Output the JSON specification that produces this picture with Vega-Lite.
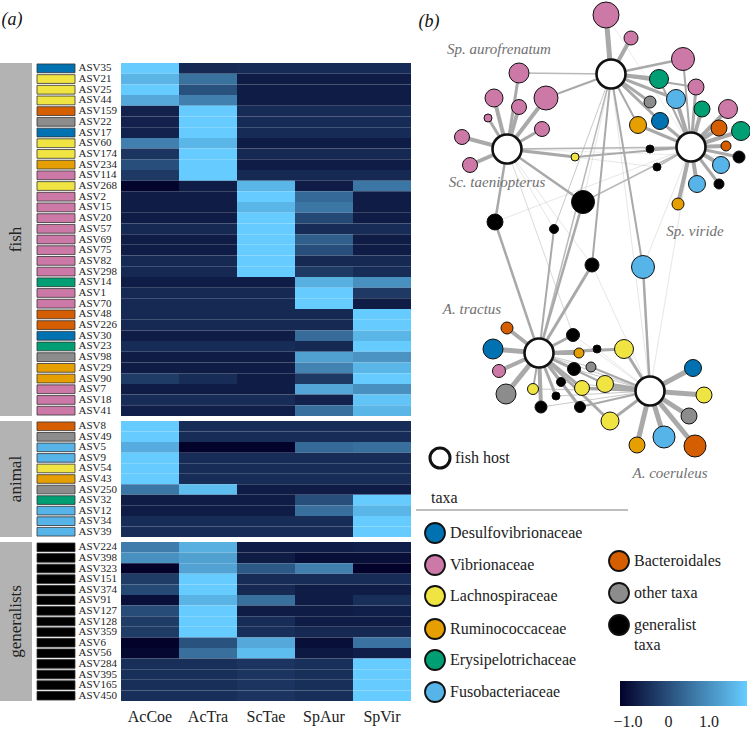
{
 "$schema": "https://vega.github.io/schema/vega-lite/v6.json",
 "padding": 0,
 "background": "white",
 "config": {"view": {"stroke": null}, "font": "Liberation Serif"},
 "datasets": {
  "heat": [
   {"asv":"ASV35","g":"fish","t":"Desulfovibrionaceae","AcCoe":1.94,"AcTra":-0.6,"ScTae":-0.57,"SpAur":-0.57,"SpVir":-0.57},
   {"asv":"ASV21","g":"fish","t":"Lachnospiraceae","AcCoe":1.56,"AcTra":0.53,"ScTae":-0.8,"SpAur":-0.8,"SpVir":-0.8},
   {"asv":"ASV25","g":"fish","t":"Lachnospiraceae","AcCoe":1.94,"AcTra":0.03,"ScTae":-0.8,"SpAur":-0.8,"SpVir":-0.8},
   {"asv":"ASV44","g":"fish","t":"Lachnospiraceae","AcCoe":1.4,"AcTra":0.75,"ScTae":-0.8,"SpAur":-0.8,"SpVir":-0.8},
   {"asv":"ASV159","g":"fish","t":"Bacteroidales","AcCoe":-0.7,"AcTra":1.94,"ScTae":-0.57,"SpAur":-0.57,"SpVir":-0.57},
   {"asv":"ASV22","g":"fish","t":"other taxa","AcCoe":-0.7,"AcTra":1.94,"ScTae":-0.57,"SpAur":-0.57,"SpVir":-0.57},
   {"asv":"ASV17","g":"fish","t":"Desulfovibrionaceae","AcCoe":-0.7,"AcTra":1.94,"ScTae":-0.57,"SpAur":-0.57,"SpVir":-0.57},
   {"asv":"ASV60","g":"fish","t":"Lachnospiraceae","AcCoe":0.75,"AcTra":1.6,"ScTae":-0.8,"SpAur":-0.8,"SpVir":-0.8},
   {"asv":"ASV174","g":"fish","t":"Lachnospiraceae","AcCoe":-0.4,"AcTra":1.94,"ScTae":-0.6,"SpAur":-0.6,"SpVir":-0.6},
   {"asv":"ASV234","g":"fish","t":"Ruminococcaceae","AcCoe":0.0,"AcTra":1.94,"ScTae":-0.8,"SpAur":-0.8,"SpVir":-0.8},
   {"asv":"ASV114","g":"fish","t":"Vibrionaceae","AcCoe":-0.35,"AcTra":1.94,"ScTae":-0.6,"SpAur":-0.6,"SpVir":-0.6},
   {"asv":"ASV268","g":"fish","t":"Lachnospiraceae","AcCoe":-1.15,"AcTra":-0.8,"ScTae":1.6,"SpAur":-0.8,"SpVir":0.6},
   {"asv":"ASV2","g":"fish","t":"Vibrionaceae","AcCoe":-0.8,"AcTra":-0.8,"ScTae":1.94,"SpAur":0.4,"SpVir":-0.8},
   {"asv":"ASV15","g":"fish","t":"Vibrionaceae","AcCoe":-0.8,"AcTra":-0.8,"ScTae":1.6,"SpAur":0.6,"SpVir":-0.8},
   {"asv":"ASV20","g":"fish","t":"Vibrionaceae","AcCoe":-0.8,"AcTra":-0.8,"ScTae":1.94,"SpAur":-0.1,"SpVir":-0.8},
   {"asv":"ASV57","g":"fish","t":"Vibrionaceae","AcCoe":-0.6,"AcTra":-0.6,"ScTae":1.94,"SpAur":-0.55,"SpVir":-0.55},
   {"asv":"ASV69","g":"fish","t":"Vibrionaceae","AcCoe":-0.8,"AcTra":-0.8,"ScTae":1.94,"SpAur":0.25,"SpVir":-0.8},
   {"asv":"ASV75","g":"fish","t":"Vibrionaceae","AcCoe":-0.8,"AcTra":-0.8,"ScTae":1.94,"SpAur":0.0,"SpVir":-0.8},
   {"asv":"ASV82","g":"fish","t":"Vibrionaceae","AcCoe":-0.6,"AcTra":-0.6,"ScTae":1.94,"SpAur":-0.6,"SpVir":-0.6},
   {"asv":"ASV298","g":"fish","t":"Vibrionaceae","AcCoe":-0.6,"AcTra":-0.6,"ScTae":1.94,"SpAur":-0.35,"SpVir":-0.55},
   {"asv":"ASV14","g":"fish","t":"Erysipelotrichaceae","AcCoe":-0.8,"AcTra":-0.8,"ScTae":-0.8,"SpAur":1.5,"SpVir":1.0},
   {"asv":"ASV1","g":"fish","t":"Vibrionaceae","AcCoe":-0.6,"AcTra":-0.6,"ScTae":-0.6,"SpAur":1.94,"SpVir":-0.35},
   {"asv":"ASV70","g":"fish","t":"Vibrionaceae","AcCoe":-0.6,"AcTra":-0.6,"ScTae":-0.6,"SpAur":1.94,"SpVir":-0.8},
   {"asv":"ASV48","g":"fish","t":"Bacteroidales","AcCoe":-0.6,"AcTra":-0.6,"ScTae":-0.6,"SpAur":-0.6,"SpVir":1.94},
   {"asv":"ASV226","g":"fish","t":"Bacteroidales","AcCoe":-0.6,"AcTra":-0.6,"ScTae":-0.6,"SpAur":-0.6,"SpVir":1.94},
   {"asv":"ASV30","g":"fish","t":"Desulfovibrionaceae","AcCoe":-0.8,"AcTra":-0.8,"ScTae":-0.8,"SpAur":0.45,"SpVir":1.6},
   {"asv":"ASV23","g":"fish","t":"Erysipelotrichaceae","AcCoe":-0.55,"AcTra":-0.55,"ScTae":-0.55,"SpAur":-0.6,"SpVir":1.94},
   {"asv":"ASV98","g":"fish","t":"other taxa","AcCoe":-0.8,"AcTra":-0.8,"ScTae":-0.8,"SpAur":1.25,"SpVir":1.05},
   {"asv":"ASV29","g":"fish","t":"Ruminococcaceae","AcCoe":-0.8,"AcTra":-0.8,"ScTae":-0.8,"SpAur":0.8,"SpVir":1.6},
   {"asv":"ASV90","g":"fish","t":"Ruminococcaceae","AcCoe":-0.3,"AcTra":-0.55,"ScTae":-0.8,"SpAur":-0.35,"SpVir":1.94},
   {"asv":"ASV7","g":"fish","t":"Vibrionaceae","AcCoe":-0.8,"AcTra":-0.8,"ScTae":-0.8,"SpAur":1.35,"SpVir":1.0},
   {"asv":"ASV18","g":"fish","t":"Vibrionaceae","AcCoe":-0.55,"AcTra":-0.55,"ScTae":-0.55,"SpAur":-0.7,"SpVir":1.8},
   {"asv":"ASV41","g":"fish","t":"Vibrionaceae","AcCoe":-0.75,"AcTra":-0.75,"ScTae":-0.75,"SpAur":0.5,"SpVir":1.6},
   {"asv":"ASV8","g":"animal","t":"Bacteroidales","AcCoe":1.94,"AcTra":-0.55,"ScTae":-0.55,"SpAur":-0.55,"SpVir":-0.55},
   {"asv":"ASV49","g":"animal","t":"other taxa","AcCoe":1.94,"AcTra":-0.55,"ScTae":-0.55,"SpAur":-0.55,"SpVir":-0.55},
   {"asv":"ASV5","g":"animal","t":"Fusobacteriaceae","AcCoe":1.45,"AcTra":-1.2,"ScTae":-1.2,"SpAur":0.4,"SpVir":0.5},
   {"asv":"ASV9","g":"animal","t":"Fusobacteriaceae","AcCoe":1.94,"AcTra":-0.55,"ScTae":-0.55,"SpAur":-0.55,"SpVir":-0.55},
   {"asv":"ASV54","g":"animal","t":"Lachnospiraceae","AcCoe":1.94,"AcTra":-0.55,"ScTae":-0.55,"SpAur":-0.55,"SpVir":-0.55},
   {"asv":"ASV43","g":"animal","t":"Ruminococcaceae","AcCoe":1.94,"AcTra":-0.55,"ScTae":-0.55,"SpAur":-0.55,"SpVir":-0.55},
   {"asv":"ASV250","g":"animal","t":"other taxa","AcCoe":0.6,"AcTra":1.7,"ScTae":-0.8,"SpAur":-0.8,"SpVir":-0.8},
   {"asv":"ASV32","g":"animal","t":"Erysipelotrichaceae","AcCoe":-0.8,"AcTra":-0.8,"ScTae":-0.8,"SpAur":0.0,"SpVir":1.94},
   {"asv":"ASV12","g":"animal","t":"Fusobacteriaceae","AcCoe":-0.8,"AcTra":-0.8,"ScTae":-0.8,"SpAur":0.5,"SpVir":1.6},
   {"asv":"ASV34","g":"animal","t":"Fusobacteriaceae","AcCoe":-0.55,"AcTra":-0.55,"ScTae":-0.55,"SpAur":-0.55,"SpVir":1.94},
   {"asv":"ASV39","g":"animal","t":"Fusobacteriaceae","AcCoe":-0.55,"AcTra":-0.55,"ScTae":-0.55,"SpAur":-0.55,"SpVir":1.94},
   {"asv":"ASV224","g":"generalists","t":"generalist taxa","AcCoe":0.7,"AcTra":1.5,"ScTae":-0.8,"SpAur":-0.8,"SpVir":-0.75},
   {"asv":"ASV398","g":"generalists","t":"generalist taxa","AcCoe":1.0,"AcTra":1.25,"ScTae":-0.8,"SpAur":-1.0,"SpVir":-1.0},
   {"asv":"ASV323","g":"generalists","t":"generalist taxa","AcCoe":-1.2,"AcTra":1.3,"ScTae":0.15,"SpAur":0.75,"SpVir":-1.2},
   {"asv":"ASV151","g":"generalists","t":"generalist taxa","AcCoe":-0.3,"AcTra":1.94,"ScTae":-0.55,"SpAur":-0.55,"SpVir":-0.55},
   {"asv":"ASV374","g":"generalists","t":"generalist taxa","AcCoe":-0.1,"AcTra":1.94,"ScTae":-0.6,"SpAur":-0.8,"SpVir":-0.8},
   {"asv":"ASV91","g":"generalists","t":"generalist taxa","AcCoe":-1.0,"AcTra":1.55,"ScTae":0.5,"SpAur":-0.8,"SpVir":-0.5},
   {"asv":"ASV127","g":"generalists","t":"generalist taxa","AcCoe":-0.05,"AcTra":1.94,"ScTae":-0.8,"SpAur":-0.8,"SpVir":-0.75},
   {"asv":"ASV128","g":"generalists","t":"generalist taxa","AcCoe":-0.3,"AcTra":1.94,"ScTae":-0.55,"SpAur":-0.8,"SpVir":-0.8},
   {"asv":"ASV359","g":"generalists","t":"generalist taxa","AcCoe":-0.3,"AcTra":1.94,"ScTae":-0.5,"SpAur":-0.6,"SpVir":-0.6},
   {"asv":"ASV6","g":"generalists","t":"generalist taxa","AcCoe":-1.2,"AcTra":0.05,"ScTae":1.4,"SpAur":-1.0,"SpVir":0.55},
   {"asv":"ASV56","g":"generalists","t":"generalist taxa","AcCoe":-1.1,"AcTra":0.5,"ScTae":1.7,"SpAur":-0.85,"SpVir":-0.75},
   {"asv":"ASV284","g":"generalists","t":"generalist taxa","AcCoe":-0.5,"AcTra":-0.5,"ScTae":-0.4,"SpAur":-0.5,"SpVir":1.94},
   {"asv":"ASV395","g":"generalists","t":"generalist taxa","AcCoe":-0.5,"AcTra":-0.5,"ScTae":-0.4,"SpAur":-0.5,"SpVir":1.94},
   {"asv":"ASV165","g":"generalists","t":"generalist taxa","AcCoe":-0.5,"AcTra":-0.5,"ScTae":-0.4,"SpAur":-0.5,"SpVir":1.94},
   {"asv":"ASV450","g":"generalists","t":"generalist taxa","AcCoe":-0.5,"AcTra":-0.5,"ScTae":-0.4,"SpAur":-0.5,"SpVir":1.94}
  ],
  "nodes": [
   {"id":"H1","x":610,"y":72,"abund":29,"t":"host"},
   {"id":"H2","x":506,"y":147,"abund":29,"t":"host"},
   {"id":"H3","x":690,"y":145,"abund":29,"t":"host"},
   {"id":"H4","x":538,"y":351,"abund":29,"t":"host"},
   {"id":"H5","x":649,"y":389,"abund":29,"t":"host"},
   {"id":"n1","x":605,"y":13,"abund":26,"t":"Vibrionaceae"},
   {"id":"n2","x":630,"y":36,"abund":14,"t":"Vibrionaceae"},
   {"id":"n3","x":682,"y":57,"abund":23,"t":"Vibrionaceae"},
   {"id":"n4","x":658,"y":77,"abund":19,"t":"Erysipelotrichaceae"},
   {"id":"n5","x":695,"y":85,"abund":16,"t":"Vibrionaceae"},
   {"id":"n6","x":675,"y":97,"abund":19,"t":"Fusobacteriaceae"},
   {"id":"n7","x":649,"y":100,"abund":12,"t":"other taxa"},
   {"id":"n8","x":701,"y":107,"abund":16,"t":"Erysipelotrichaceae"},
   {"id":"n9","x":727,"y":107,"abund":19,"t":"Vibrionaceae"},
   {"id":"n10","x":659,"y":119,"abund":17,"t":"Desulfovibrionaceae"},
   {"id":"n11","x":637,"y":123,"abund":17,"t":"Ruminococcaceae"},
   {"id":"n12","x":718,"y":126,"abund":16,"t":"Bacteroidales"},
   {"id":"n13","x":740,"y":129,"abund":19,"t":"Erysipelotrichaceae"},
   {"id":"n14","x":725,"y":144,"abund":10,"t":"Bacteroidales"},
   {"id":"n15","x":738,"y":155,"abund":12,"t":"generalist taxa"},
   {"id":"n16","x":649,"y":147,"abund":8,"t":"generalist taxa"},
   {"id":"n17","x":656,"y":165,"abund":8,"t":"generalist taxa"},
   {"id":"n18","x":720,"y":163,"abund":17,"t":"Fusobacteriaceae"},
   {"id":"n19","x":696,"y":182,"abund":17,"t":"Fusobacteriaceae"},
   {"id":"n20","x":718,"y":182,"abund":10,"t":"generalist taxa"},
   {"id":"n21","x":677,"y":202,"abund":12,"t":"Ruminococcaceae"},
   {"id":"n22","x":574,"y":155,"abund":8,"t":"Lachnospiraceae"},
   {"id":"n23","x":582,"y":200,"abund":23,"t":"generalist taxa"},
   {"id":"n24","x":494,"y":220,"abund":16,"t":"generalist taxa"},
   {"id":"n25","x":553,"y":227,"abund":9,"t":"generalist taxa"},
   {"id":"n26","x":591,"y":263,"abund":14,"t":"generalist taxa"},
   {"id":"n27","x":642,"y":265,"abund":23,"t":"Fusobacteriaceae"},
   {"id":"n28","x":518,"y":71,"abund":20,"t":"Vibrionaceae"},
   {"id":"n29","x":493,"y":96,"abund":18,"t":"Vibrionaceae"},
   {"id":"n30","x":545,"y":96,"abund":24,"t":"Vibrionaceae"},
   {"id":"n31","x":518,"y":105,"abund":15,"t":"Vibrionaceae"},
   {"id":"n32","x":487,"y":116,"abund":8,"t":"Vibrionaceae"},
   {"id":"n33","x":541,"y":127,"abund":15,"t":"Vibrionaceae"},
   {"id":"n34","x":461,"y":135,"abund":15,"t":"Vibrionaceae"},
   {"id":"n35","x":469,"y":163,"abund":15,"t":"Vibrionaceae"},
   {"id":"n36","x":506,"y":326,"abund":12,"t":"Bacteroidales"},
   {"id":"n37","x":492,"y":347,"abund":20,"t":"Desulfovibrionaceae"},
   {"id":"n38","x":498,"y":369,"abund":13,"t":"Vibrionaceae"},
   {"id":"n39","x":505,"y":392,"abund":20,"t":"other taxa"},
   {"id":"n40","x":532,"y":387,"abund":11,"t":"Lachnospiraceae"},
   {"id":"n41","x":572,"y":333,"abund":13,"t":"generalist taxa"},
   {"id":"n42","x":578,"y":351,"abund":10,"t":"Ruminococcaceae"},
   {"id":"n43","x":596,"y":347,"abund":8,"t":"generalist taxa"},
   {"id":"n44","x":623,"y":347,"abund":19,"t":"Lachnospiraceae"},
   {"id":"n45","x":573,"y":367,"abund":13,"t":"generalist taxa"},
   {"id":"n46","x":590,"y":365,"abund":10,"t":"other taxa"},
   {"id":"n47","x":560,"y":380,"abund":9,"t":"generalist taxa"},
   {"id":"n48","x":581,"y":386,"abund":15,"t":"Lachnospiraceae"},
   {"id":"n49","x":604,"y":382,"abund":17,"t":"Lachnospiraceae"},
   {"id":"n50","x":555,"y":394,"abund":8,"t":"generalist taxa"},
   {"id":"n51","x":540,"y":405,"abund":12,"t":"generalist taxa"},
   {"id":"n52","x":579,"y":405,"abund":11,"t":"generalist taxa"},
   {"id":"n53","x":609,"y":419,"abund":18,"t":"Lachnospiraceae"},
   {"id":"n54","x":692,"y":366,"abund":17,"t":"Desulfovibrionaceae"},
   {"id":"n55","x":703,"y":393,"abund":16,"t":"Lachnospiraceae"},
   {"id":"n56","x":688,"y":414,"abund":16,"t":"other taxa"},
   {"id":"n57","x":663,"y":435,"abund":22,"t":"Fusobacteriaceae"},
   {"id":"n58","x":636,"y":443,"abund":16,"t":"Ruminococcaceae"},
   {"id":"n59","x":694,"y":444,"abund":22,"t":"Bacteroidales"}
  ],
  "edges": [
   {"s":"H1","t":"n1","w":5},{"s":"H1","t":"n2","w":4},{"s":"H1","t":"n3","w":2.5},{"s":"H1","t":"n4","w":4},
   {"s":"H1","t":"n6","w":3},{"s":"H1","t":"n7","w":3},{"s":"H1","t":"n10","w":3},{"s":"H1","t":"n11","w":2},
   {"s":"H1","t":"n28","w":1.5},{"s":"H1","t":"n30","w":2},{"s":"H1","t":"n26","w":2},{"s":"H1","t":"n27","w":2},
   {"s":"H1","t":"n25","w":1},{"s":"H1","t":"H4","w":1.5},{"s":"H1","t":"n23","w":0.6},{"s":"H1","t":"n5","w":2},
   {"s":"H2","t":"n28","w":3},{"s":"H2","t":"n29","w":4},{"s":"H2","t":"n30","w":4},{"s":"H2","t":"n31","w":4},
   {"s":"H2","t":"n32","w":3},{"s":"H2","t":"n33","w":3},{"s":"H2","t":"n34","w":4},{"s":"H2","t":"n35","w":4},
   {"s":"H2","t":"n22","w":3},{"s":"H2","t":"H3","w":1.5},{"s":"H2","t":"n23","w":2.5},{"s":"H2","t":"n24","w":2.5},
   {"s":"H2","t":"n25","w":0.6},{"s":"H2","t":"n26","w":0.6},{"s":"H2","t":"n16","w":0.6},{"s":"H2","t":"n17","w":0.6},
   {"s":"H2","t":"n41","w":0.8},{"s":"H2","t":"n15","w":0.5},
   {"s":"H3","t":"n3","w":2},{"s":"H3","t":"n4","w":2},{"s":"H3","t":"n5","w":3},{"s":"H3","t":"n6","w":4},
   {"s":"H3","t":"n8","w":4},{"s":"H3","t":"n9","w":4},{"s":"H3","t":"n10","w":3},{"s":"H3","t":"n11","w":3},
   {"s":"H3","t":"n12","w":4},{"s":"H3","t":"n13","w":4},{"s":"H3","t":"n14","w":4},{"s":"H3","t":"n15","w":3},
   {"s":"H3","t":"n16","w":2},{"s":"H3","t":"n17","w":1.5},{"s":"H3","t":"n18","w":4},{"s":"H3","t":"n19","w":4},
   {"s":"H3","t":"n20","w":3},{"s":"H3","t":"n21","w":4},{"s":"H3","t":"n22","w":2},{"s":"H3","t":"n23","w":1.5},
   {"s":"H3","t":"n24","w":0.6},{"s":"H3","t":"n27","w":0.6},{"s":"H3","t":"H5","w":0.6},{"s":"H3","t":"n1","w":0.5},
   {"s":"H4","t":"n36","w":4},{"s":"H4","t":"n37","w":5},{"s":"H4","t":"n38","w":4},{"s":"H4","t":"n39","w":5},
   {"s":"H4","t":"n40","w":2},{"s":"H4","t":"n41","w":3},{"s":"H4","t":"n42","w":4},{"s":"H4","t":"n43","w":1.5},
   {"s":"H4","t":"n44","w":3},{"s":"H4","t":"n45","w":3},{"s":"H4","t":"n47","w":3},{"s":"H4","t":"n48","w":3},
   {"s":"H4","t":"n49","w":2},{"s":"H4","t":"n50","w":3},{"s":"H4","t":"n51","w":4},{"s":"H4","t":"n52","w":3},
   {"s":"H4","t":"n53","w":3},{"s":"H4","t":"n23","w":2.5},{"s":"H4","t":"n24","w":2.5},{"s":"H4","t":"n25","w":2},
   {"s":"H4","t":"n26","w":3},{"s":"H4","t":"H5","w":1},{"s":"H4","t":"n46","w":1},
   {"s":"H5","t":"n54","w":5},{"s":"H5","t":"n55","w":5},{"s":"H5","t":"n56","w":5},{"s":"H5","t":"n57","w":5},
   {"s":"H5","t":"n58","w":5},{"s":"H5","t":"n59","w":5},{"s":"H5","t":"n27","w":2.5},{"s":"H5","t":"n44","w":3},
   {"s":"H5","t":"n46","w":2},{"s":"H5","t":"n48","w":3},{"s":"H5","t":"n49","w":4},{"s":"H5","t":"n53","w":3},
   {"s":"H5","t":"n52","w":2},{"s":"H5","t":"n51","w":1},{"s":"H5","t":"n50","w":1},{"s":"H5","t":"n47","w":1},
   {"s":"H5","t":"n45","w":1},{"s":"H5","t":"n40","w":1},{"s":"H5","t":"n43","w":0.6},{"s":"H5","t":"n41","w":0.6},
   {"s":"H5","t":"n26","w":0.6},{"s":"H5","t":"H1","w":0.6}
  ],
  "leg": [
   {"lx":439,"ly":456,"t":"host","lab":"fish host","abund":20},
   {"lx":415,"ly":496,"lab":"taxa"},
   {"lx":434,"ly":531,"t":"Desulfovibrionaceae","lab":"Desulfovibrionaceae","abund":20},
   {"lx":434,"ly":563,"t":"Vibrionaceae","lab":"Vibrionaceae","abund":20},
   {"lx":434,"ly":594,"t":"Lachnospiraceae","lab":"Lachnospiraceae","abund":20},
   {"lx":434,"ly":627,"t":"Ruminococcaceae","lab":"Ruminococcaceae","abund":20},
   {"lx":434,"ly":658,"t":"Erysipelotrichaceae","lab":"Erysipelotrichaceae","abund":20},
   {"lx":434,"ly":690,"t":"Fusobacteriaceae","lab":"Fusobacteriaceae","abund":20},
   {"lx":618,"ly":559,"t":"Bacteroidales","lab":"Bacteroidales","abund":20},
   {"lx":618,"ly":591,"t":"other taxa","lab":"other taxa","abund":20},
   {"lx":618,"ly":623,"t":"generalist taxa","lab":"generalist","abund":20},
   {"lx":618,"ly":643,"lab":"taxa"}
  ],
  "hostlab": [
   {"x":498,"y":47,"lab":"Sp. aurofrenatum"},
   {"x":496,"y":180,"lab":"Sc. taeniopterus"},
   {"x":694,"y":229,"lab":"Sp. viride"},
   {"x":471,"y":307,"lab":"A. tractus"},
   {"x":669,"y":471,"lab":"A. coeruleus"}
  ]
 },
 "spacing": 0,
 "hconcat": [
  {
   "spacing": 23,
   "vconcat": [
    {"width": 24, "height": 36, "data": {"values": [{"lab": "(a)"}]},
     "mark": {"type": "text", "font": "Liberation Serif", "fontStyle": "italic", "fontSize": 18, "color": "#111"},
     "encoding": {"text": {"field": "lab"}}},
    {
     "spacing": 3,
     "resolve": {"scale": {"x": "independent", "y": "independent"}},
     "vconcat": [
      {
       "spacing": 4,
       "resolve": {"scale": {"x": "independent", "y": "independent"}},
       "hconcat": [
        {"width": 32, "height": 353, "view": {"fill": "#b3b3b3", "stroke": null}, "data": {"values": [{"g": "fish"}]},
         "mark": {"type": "text", "angle": 270, "font": "Liberation Serif", "fontSize": 17, "color": "#222"},
         "encoding": {"text": {"field": "g"}}},
        {"width": 38, "height": 353, "data": {"name": "heat"}, "transform": [{"filter": "datum.g == 'fish'"}],
         "mark": {"type": "rect", "stroke": "#333", "strokeWidth": 0.8},
         "encoding": {
          "y": {"field": "asv", "type": "nominal", "sort": null, "scale": {"paddingInner": 0.18, "paddingOuter": 0.09},
                "axis": {"orient": "right", "title": null, "ticks": false, "domain": false, "labelFont": "Liberation Serif", "labelFontSize": 11, "labelColor": "#222", "labelPadding": 3, "minExtent": 42, "maxExtent": 42}},
          "fill": {"field": "t", "type": "nominal", "legend": null,
                   "scale": {"domain": ["host","Desulfovibrionaceae","Vibrionaceae","Lachnospiraceae","Ruminococcaceae","Erysipelotrichaceae","Fusobacteriaceae","Bacteroidales","other taxa","generalist taxa"],
                             "range": ["#ffffff","#0072b2","#cc79a7","#f0e442","#e69f00","#009e73","#56b4e9","#d55e00","#8c8c8c","#000000"]}}
         }},
        {"width": 290, "height": 353, "data": {"name": "heat"},
         "transform": [{"filter": "datum.g == 'fish'"}, {"fold": ["AcCoe","AcTra","ScTae","SpAur","SpVir"]}],
         "mark": "rect",
         "encoding": {
          "x": {"field": "key", "type": "nominal", "sort": ["AcCoe","AcTra","ScTae","SpAur","SpVir"], "scale": {"paddingInner": 0, "paddingOuter": 0}, "axis": null},
          "y": {"field": "asv", "type": "nominal", "sort": null, "axis": null},
          "color": {"field": "value", "type": "quantitative",
                    "scale": {"domain": [-1.2, 1.94], "range": ["#02022a", "#66ccff"], "interpolate": "rgb", "clamp": true},
                    "legend": {"orient": "none", "legendX": 620, "legendY": 679, "direction": "horizontal", "title": null, "gradientLength": 127, "gradientThickness": 25, "values": [-1, 0, 1], "labelExpr": "datum.value == 0 ? '0' : format(datum.value, '.1f')", "labelFont": "Liberation Serif", "labelFontSize": 16, "labelColor": "#222", "labelOffset": 8, "gradientStrokeWidth": 0}}
         }}
       ]
      },
      {
       "spacing": 4,
       "resolve": {"scale": {"x": "independent", "y": "independent"}},
       "hconcat": [
        {"width": 32, "height": 116, "view": {"fill": "#b3b3b3", "stroke": null}, "data": {"values": [{"g": "animal"}]},
         "mark": {"type": "text", "angle": 270, "font": "Liberation Serif", "fontSize": 17, "color": "#222"},
         "encoding": {"text": {"field": "g"}}},
        {"width": 38, "height": 116, "data": {"name": "heat"}, "transform": [{"filter": "datum.g == 'animal'"}],
         "mark": {"type": "rect", "stroke": "#333", "strokeWidth": 0.8},
         "encoding": {
          "y": {"field": "asv", "type": "nominal", "sort": null, "scale": {"paddingInner": 0.18, "paddingOuter": 0.09},
                "axis": {"orient": "right", "title": null, "ticks": false, "domain": false, "labelFont": "Liberation Serif", "labelFontSize": 11, "labelColor": "#222", "labelPadding": 3, "minExtent": 42, "maxExtent": 42}},
          "fill": {"field": "t", "type": "nominal", "legend": null,
                   "scale": {"domain": ["host","Desulfovibrionaceae","Vibrionaceae","Lachnospiraceae","Ruminococcaceae","Erysipelotrichaceae","Fusobacteriaceae","Bacteroidales","other taxa","generalist taxa"],
                             "range": ["#ffffff","#0072b2","#cc79a7","#f0e442","#e69f00","#009e73","#56b4e9","#d55e00","#8c8c8c","#000000"]}}
         }},
        {"width": 290, "height": 116, "data": {"name": "heat"},
         "transform": [{"filter": "datum.g == 'animal'"}, {"fold": ["AcCoe","AcTra","ScTae","SpAur","SpVir"]}],
         "mark": "rect",
         "encoding": {
          "x": {"field": "key", "type": "nominal", "sort": ["AcCoe","AcTra","ScTae","SpAur","SpVir"], "scale": {"paddingInner": 0, "paddingOuter": 0}, "axis": null},
          "y": {"field": "asv", "type": "nominal", "sort": null, "axis": null},
          "color": {"field": "value", "type": "quantitative",
                    "scale": {"domain": [-1.2, 1.94], "range": ["#02022a", "#66ccff"], "interpolate": "rgb", "clamp": true},
                    "legend": {"orient": "none", "legendX": 620, "legendY": 679, "direction": "horizontal", "title": null, "gradientLength": 127, "gradientThickness": 25, "values": [-1, 0, 1], "labelExpr": "datum.value == 0 ? '0' : format(datum.value, '.1f')", "labelFont": "Liberation Serif", "labelFontSize": 16, "labelColor": "#222", "labelOffset": 8, "gradientStrokeWidth": 0}}
         }}
       ]
      },
      {
       "spacing": 4,
       "resolve": {"scale": {"x": "independent", "y": "independent"}},
       "hconcat": [
        {"width": 32, "height": 159, "view": {"fill": "#b3b3b3", "stroke": null}, "data": {"values": [{"g": "generalists"}]},
         "mark": {"type": "text", "angle": 270, "font": "Liberation Serif", "fontSize": 17, "color": "#222"},
         "encoding": {"text": {"field": "g"}}},
        {"width": 38, "height": 159, "data": {"name": "heat"}, "transform": [{"filter": "datum.g == 'generalists'"}],
         "mark": {"type": "rect", "stroke": "#333", "strokeWidth": 0.8},
         "encoding": {
          "y": {"field": "asv", "type": "nominal", "sort": null, "scale": {"paddingInner": 0.18, "paddingOuter": 0.09},
                "axis": {"orient": "right", "title": null, "ticks": false, "domain": false, "labelFont": "Liberation Serif", "labelFontSize": 11, "labelColor": "#222", "labelPadding": 3, "minExtent": 42, "maxExtent": 42}},
          "fill": {"field": "t", "type": "nominal", "legend": null,
                   "scale": {"domain": ["host","Desulfovibrionaceae","Vibrionaceae","Lachnospiraceae","Ruminococcaceae","Erysipelotrichaceae","Fusobacteriaceae","Bacteroidales","other taxa","generalist taxa"],
                             "range": ["#ffffff","#0072b2","#cc79a7","#f0e442","#e69f00","#009e73","#56b4e9","#d55e00","#8c8c8c","#000000"]}}
         }},
        {"width": 290, "height": 159, "data": {"name": "heat"},
         "transform": [{"filter": "datum.g == 'generalists'"}, {"fold": ["AcCoe","AcTra","ScTae","SpAur","SpVir"]}],
         "mark": "rect",
         "encoding": {
          "x": {"field": "key", "type": "nominal", "sort": ["AcCoe","AcTra","ScTae","SpAur","SpVir"], "scale": {"paddingInner": 0, "paddingOuter": 0},
                "axis": {"title": null, "ticks": false, "domain": false, "labelAngle": 0, "labelFont": "Liberation Serif", "labelFontSize": 16, "labelColor": "#222", "labelPadding": 7}},
          "y": {"field": "asv", "type": "nominal", "sort": null, "axis": null},
          "color": {"field": "value", "type": "quantitative",
                    "scale": {"domain": [-1.2, 1.94], "range": ["#02022a", "#66ccff"], "interpolate": "rgb", "clamp": true},
                    "legend": {"orient": "none", "legendX": 620, "legendY": 679, "direction": "horizontal", "title": null, "gradientLength": 127, "gradientThickness": 25, "values": [-1, 0, 1], "labelExpr": "datum.value == 0 ? '0' : format(datum.value, '.1f')", "labelFont": "Liberation Serif", "labelFontSize": 16, "labelColor": "#222", "labelOffset": 8, "gradientStrokeWidth": 0}}
         }}
       ]
      }
     ]
    }
   ]
  },
  {
   "width": 340,
   "height": 732,
   "layer": [
    {"data": {"name": "edges"},
     "transform": [
      {"lookup": "s", "from": {"data": {"name": "nodes"}, "key": "id", "fields": ["x", "y"]}, "as": ["sx", "sy"]},
      {"lookup": "t", "from": {"data": {"name": "nodes"}, "key": "id", "fields": ["x", "y"]}, "as": ["tx", "ty"]}
     ],
     "mark": {"type": "rule", "color": "#a9a9a9"},
     "encoding": {
      "x": {"field": "sx", "type": "quantitative", "scale": {"domain": [410, 750], "zero": false, "nice": false}, "axis": null},
      "y": {"field": "sy", "type": "quantitative", "scale": {"domain": [0, 732], "zero": false, "nice": false, "reverse": true}, "axis": null},
      "x2": {"field": "tx"},
      "y2": {"field": "ty"},
      "strokeWidth": {"field": "w", "type": "quantitative", "scale": {"domain": [0, 5], "range": [0, 5]}, "legend": null},
      "opacity": {"field": "w", "type": "quantitative", "scale": {"domain": [0.5, 2], "range": [0.45, 1], "clamp": true}, "legend": null}
     }},
    {"data": {"name": "leg"},
     "transform": [{"filter": "datum.lab == 'taxa' && datum.lx < 420"}],
     "mark": {"type": "rule", "color": "#a9a9a9", "strokeWidth": 1.5},
     "encoding": {
      "x": {"field": "lx", "type": "quantitative", "axis": null},
      "x2": {"datum": 627},
      "y": {"field": "ly", "type": "quantitative", "axis": null},
      "yOffset": {"value": 12}
     }},
    {"data": {"name": "nodes"},
     "mark": {"type": "circle", "opacity": 1, "stroke": "#111"},
     "encoding": {
      "x": {"field": "x", "type": "quantitative", "axis": null},
      "y": {"field": "y", "type": "quantitative", "axis": null},
      "size": {"field": "abund", "type": "quantitative", "scale": {"type": "pow", "exponent": 2, "domain": [0, 30], "range": [0, 900]}, "legend": null},
      "fill": {"field": "t", "type": "nominal", "legend": null},
      "strokeWidth": {"condition": {"test": "datum.t == 'host'", "value": 2.6}, "value": 1}
     }},
    {"data": {"name": "hostlab"},
     "mark": {"type": "text", "font": "Liberation Serif", "fontStyle": "italic", "fontSize": 15, "color": "#707070"},
     "encoding": {
      "x": {"field": "x", "type": "quantitative", "axis": null},
      "y": {"field": "y", "type": "quantitative", "axis": null},
      "text": {"field": "lab"}
     }},
    {"data": {"values": [{"x": 428, "y": 20, "lab": "(b)"}]},
     "mark": {"type": "text", "font": "Liberation Serif", "fontStyle": "italic", "fontSize": 18, "color": "#111"},
     "encoding": {
      "x": {"field": "x", "type": "quantitative", "axis": null},
      "y": {"field": "y", "type": "quantitative", "axis": null},
      "text": {"field": "lab"}
     }},
    {"data": {"name": "leg"},
     "transform": [{"filter": "isValid(datum.t)"}],
     "mark": {"type": "circle", "opacity": 1, "stroke": "#111"},
     "encoding": {
      "x": {"field": "lx", "type": "quantitative", "axis": null},
      "y": {"field": "ly", "type": "quantitative", "axis": null},
      "size": {"field": "abund", "type": "quantitative", "legend": null},
      "fill": {"field": "t", "type": "nominal", "legend": null},
      "strokeWidth": {"condition": {"test": "datum.t == 'host'", "value": 3}, "value": 1.8}
     }},
    {"data": {"name": "leg"},
     "mark": {"type": "text", "font": "Liberation Serif", "fontSize": 16, "color": "#222", "align": "left", "dx": 15},
     "encoding": {
      "x": {"field": "lx", "type": "quantitative", "axis": null},
      "y": {"field": "ly", "type": "quantitative", "axis": null},
      "text": {"field": "lab"}
     }}
   ]
  }
 ]
}
